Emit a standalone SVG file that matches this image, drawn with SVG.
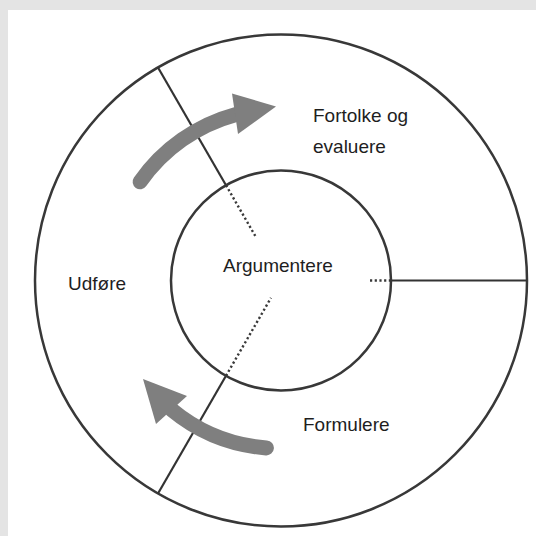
<svg xmlns="http://www.w3.org/2000/svg" width="536" height="536" viewBox="0 0 536 536">
  <style>
    .ring { fill: none; stroke: #383838; stroke-width: 2.5; }
    .div { fill: none; stroke: #333333; stroke-width: 2.2; }
    .dot { fill: none; stroke: #3a3a3a; stroke-width: 2.4; stroke-dasharray: 2.2 2.5; }
    .shaft { fill: none; stroke: #7f7f7f; stroke-width: 15; stroke-linecap: round; }
    .head { fill: #7f7f7f; }
    .lbl { font-family: "Liberation Sans", Arial, sans-serif; font-size: 19px; fill: #1e1e1e; }
  </style>
  <rect x="0" y="0" width="536" height="536" fill="#e4e4e4"/>
  <rect x="8" y="10" width="528" height="526" fill="#ffffff"/>

  <g id="outer-ring">
    <circle class="ring" cx="281" cy="280.5" r="246"/>
  </g>

  <g id="connectors">
    <line class="div" x1="158" y1="67.5" x2="226" y2="185.2"/>
    <line class="div" x1="158" y1="493.5" x2="226" y2="375.8"/>
    <line class="div" x1="527" y1="280.5" x2="391" y2="280.5"/>
    <line class="dot" x1="226" y1="185.2" x2="256" y2="237.2"/>
    <line class="dot" x1="226" y1="375.8" x2="271" y2="297.8"/>
    <line class="dot" x1="391" y1="280.5" x2="368" y2="280.5"/>
    <g id="arrow-upper">
      <path class="shaft" d="M 140.1 181.8 A 172 172 0 0 1 236 114.5"/>
      <polygon class="head" points="232,93.5 276,106.5 238,134"/>
    </g>
    <g id="arrow-lower">
      <path class="shaft" d="M 266.4 447.9 A 168 168 0 0 1 172 410"/>
      <polygon class="head" points="187,396 143,379 156,424"/>
    </g>
  </g>

  <g id="argumentere">
    <circle class="ring" cx="281" cy="280.5" r="110"/>
    <text class="lbl" x="223" y="272">Argumentere</text>
  </g>
  <g id="fortolke">
    <text class="lbl" x="313" y="122">Fortolke og</text>
    <text class="lbl" x="313" y="153">evaluere</text>
  </g>
  <g id="udfore">
    <text class="lbl" x="68" y="290">Udføre</text>
  </g>
  <g id="formulere">
    <text class="lbl" x="303" y="431">Formulere</text>
  </g>
</svg>
